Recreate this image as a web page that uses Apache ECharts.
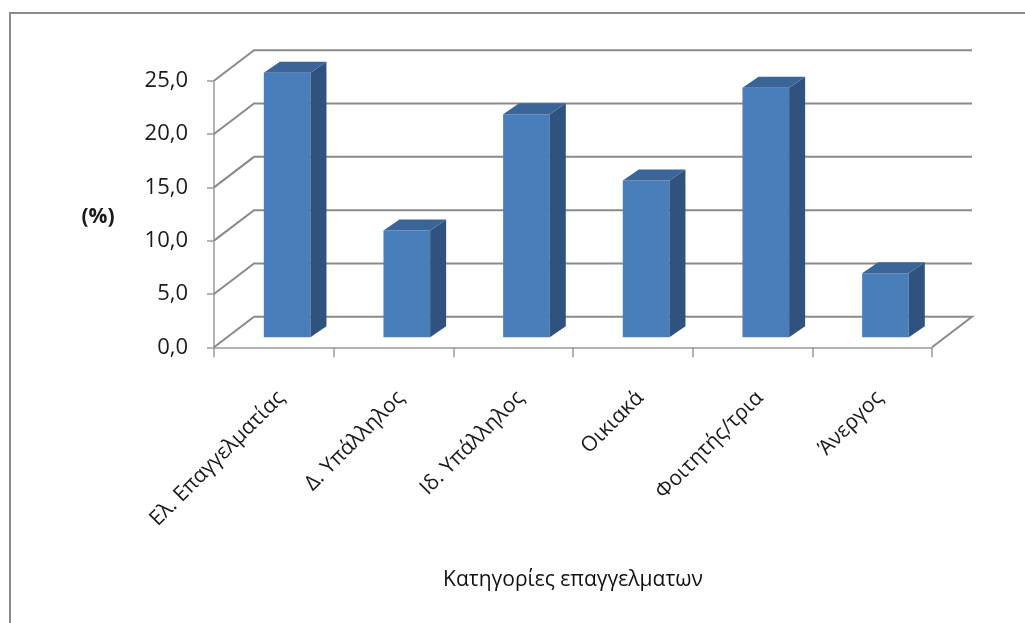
<!DOCTYPE html>
<html>
<head>
<meta charset="utf-8">
<script src="https://cdn.jsdelivr.net/npm/echarts@6/dist/echarts.min.js"></script>
<style>
  html, body { margin: 0; padding: 0; background: #ffffff; }
  #chart { width: 1025px; height: 623px; }
</style>
</head>
<body>
<div id="chart"></div>
<script>
// Occupational categories and their share (%)
const categories = ['Ελ. Επαγγελματίας', 'Δ. Υπάλληλος', 'Ιδ. Υπάλληλος', 'Οικιακά', 'Φοιτητής/τρια', 'Άνεργος'];
const shares = [24.8, 10.0, 20.9, 14.7, 23.4, 6.0];
// Value-axis ticks, also used for the wall gridlines
const yTicks = [0, 5, 10, 15, 20, 25];
const yName = '(%)';
const xName = 'Κατηγορίες επαγγελματων';

const FONT = '"Open Sans", "Noto Sans", sans-serif';
const GRID_COLOR = '#8a8a8a';
const AXIS_COLOR = '#9a9a9a';
const FRONT = '#4a7ebb';
const SIDE = '#30527f';
const TOP = '#3b6598';

// oblique projection of the chart's depth
const WALL_DX = 40, WALL_DY = 30.5;   // full floor depth
const BAR_SX = 13.3, BAR_SY = 10.1;   // bar placed inside the floor
const BAR_DX = 16, BAR_DY = 11;       // bar depth
const BAR_WIDTH = 0.39;               // fraction of a category band

function renderWall(params, api) {
  const v = api.value(1);
  const band = api.size([1, 0])[0];
  const left = api.coord([0, v]);
  const right = api.coord([categories.length - 1, v]);
  const xl = left[0] - band / 2;
  const xr = right[0] + band / 2;
  const y = left[1];
  const pts = [[xl, y], [xl + WALL_DX, y - WALL_DY], [xr + WALL_DX, y - WALL_DY]];
  if (v === 0) pts.push([xr, y]);
  return {
    type: 'polyline',
    shape: { points: pts },
    style: { stroke: GRID_COLOR, lineWidth: 2, fill: null }
  };
}

function renderBar(params, api) {
  const i = api.value(0);
  const v = api.value(1);
  const base = api.coord([i, 0]);
  const top = api.coord([i, v]);
  const w = api.size([1, 0])[0] * BAR_WIDTH;
  const x0 = base[0] + BAR_SX - w / 2;
  const x1 = x0 + w;
  const yb = base[1] - BAR_SY;
  const yt = top[1] - BAR_SY;
  return {
    type: 'group',
    children: [
      { type: 'rect', shape: { x: x0, y: yt, width: w, height: yb - yt }, style: { fill: FRONT } },
      { type: 'polygon', shape: { points: [[x1, yb], [x1, yt], [x1 + BAR_DX, yt - BAR_DY], [x1 + BAR_DX, yb - BAR_DY]] }, style: { fill: SIDE } },
      { type: 'polygon', shape: { points: [[x0, yt], [x1, yt], [x1 + BAR_DX, yt - BAR_DY], [x0 + BAR_DX, yt - BAR_DY]] }, style: { fill: TOP } }
    ]
  };
}

const chart = echarts.init(document.getElementById('chart'), null, { renderer: 'canvas' });
chart.setOption({
  backgroundColor: '#ffffff',
  animation: false,
  textStyle: { fontFamily: FONT },
  grid: { left: 214, right: 93, top: 80.7, bottom: 275.7, containLabel: false },
  graphic: [
    {
      type: 'rect', z: 0, silent: true,
      shape: { x: 10, y: 13, width: 1100, height: 700 },
      style: { fill: null, stroke: '#8a8a8a', lineWidth: 2 }
    },
    {
      type: 'text', z: 5, silent: true, x: 98, y: 217,
      style: {
        text: yName, fontSize: 21, fontWeight: 'bold', fontFamily: FONT,
        fill: '#1a1a1a', align: 'center', verticalAlign: 'middle'
      }
    }
  ],
  xAxis: {
    type: 'category',
    data: categories,
    boundaryGap: true,
    name: xName,
    nameLocation: 'middle',
    nameGap: 222,
    nameTextStyle: { fontSize: 21, color: '#111', fontFamily: FONT },
    axisLine: { show: true, lineStyle: { color: AXIS_COLOR, width: 1.5 } },
    axisTick: { show: true, length: 10, lineStyle: { color: AXIS_COLOR, width: 1.5 } },
    axisLabel: {
      rotate: 45, interval: 0, margin: 40,
      align: 'right', verticalAlign: 'top',
      fontSize: 21, color: '#1a1a1a', fontFamily: FONT
    },
    splitLine: { show: false }
  },
  yAxis: {
    type: 'value',
    min: 0, max: 25, interval: 5,
    axisLine: { show: true, lineStyle: { color: AXIS_COLOR, width: 1.5 } },
    axisTick: { show: true, length: 7, lineStyle: { color: AXIS_COLOR, width: 1.5 } },
    axisLabel: {
      margin: 26, fontSize: 22, color: '#1a1a1a', fontFamily: FONT,
      formatter: v => v.toFixed(1).replace('.', ',')
    },
    splitLine: { show: false }
  },
  series: [
    {
      type: 'custom', name: 'walls', z: 1, silent: true,
      renderItem: renderWall,
      data: yTicks.map(v => [0, v])
    },
    {
      type: 'custom', name: 'bars', z: 3, silent: true,
      renderItem: renderBar,
      data: shares.map((v, i) => [i, v])
    }
  ]
});
</script>
</body>
</html>
